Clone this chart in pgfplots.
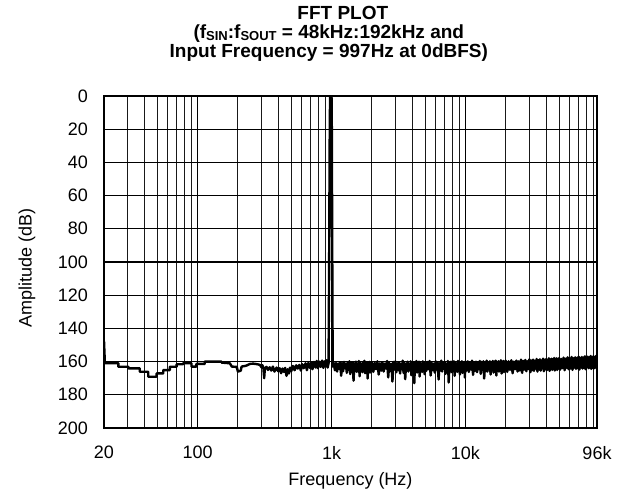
\documentclass[border=0pt]{standalone}
\usepackage{fontspec}
\setmainfont{Liberation Sans}
\usepackage{pgfplots}
\pgfplotsset{compat=1.18}

\newcommand{\sub}[1]{\raisebox{-2.2pt}{\fontsize{13}{13}\selectfont #1}}

\pgfplotstableread{
x y
20 147.5
20.3 161.0
25.6 161.0
25.6 163.1
30.4 163.1
30.4 164.1
37 164.1
37 166.1
42.8 166.1
42.8 169.1
49.4 169.1
49.4 167.1
55.4 167.1
55.4 165.1
62 165.1
62 163.1
69.8 163.1
69.8 161.6
78 161.6
78 161.0
90 161.0
90 163.0
98 163.0
98 161.4
113 161.4
113 160.0
151 160.0
151 160.6
174 161.0
180 163.0
196 163.2
200 166.0
210 165.5
213 163.0
230 162.5
246 161.4
260 161.2
280 161.6
292 162.0
300 163.5
305 162.2
310 164.0
314 170.0
318 164.0
327 163.2
335 165.0
345 163.4
355 165.4
365 163.0
375 166.0
389 163.6
400 165.8
410 164.0
420 167.0
430 164.2
440 166.2
450 163.8
461 168.6
470 164.6
480 167.2
490 163.6
500 165.8
515 162.6
530 165.2
545 162.2
560 164.2
575 162.0
590 165.4
605 161.6
620 164.0
640 161.0
655 165.2
670 160.8
690 163.8
705 160.4
720 164.6
740 160.2
760 163.6
775 159.6
790 164.0
810 160.0
830 163.2
850 159.4
870 163.8
890 159.8
905 162.8
920 159.2
935 163.6
950 161.0
960 100
968 30
975 0
990 0
1000 0
1005 20
1012 90
1020 163
1030 160.5
1040 161.5
1060 165.2
1080 160.8
1100 166.0
1120 161.2
1140 164.5
1160 160.5
1180 168.5
1200 161.0
1220 165.8
1240 160.2
1260 164.0
1280 161.4
1300 166.8
1320 160.6
1340 165.0
1360 159.8
1380 167.5
1400 161.0
1420 164.6
1440 160.4
1460 171.5
1480 161.2
1500 165.4
1520 160.0
1540 166.2
1560 161.6
1580 164.2
1600 159.6
1620 168.8
1640 160.8
1660 165.6
1680 161.4
1700 166.4
1720 160.2
1740 164.8
1760 159.5
1780 167.0
1800 161.0
1820 165.2
1840 160.6
1860 170.2
1880 161.3
1900 164.4
1920 160.1
1940 166.6
1960 161.5
1980 165.0
2000 160.4
2050 166.2
2100 160.8
2150 164.6
2200 159.8
2250 167.8
2300 161.0
2350 165.4
2400 160.4
2450 166.0
2500 161.2
2550 164.2
2600 159.6
2650 169.5
2700 160.8
2750 165.6
2800 161.4
2850 172.0
2900 160.2
2950 164.8
3000 159.8
3050 166.4
3100 161.0
3150 165.0
3200 160.6
3250 167.2
3300 161.4
3350 164.4
3400 159.4
3450 166.8
3500 160.8
3550 170.6
3600 161.2
3650 165.2
3700 160.0
3750 166.0
3800 161.6
3850 164.6
3900 159.8
3950 168.2
4000 160.6
4050 165.8
4100 161.0
4150 173.0
4200 160.4
4250 165.0
4300 159.6
4350 166.6
4400 161.2
4450 164.8
4500 160.0
4550 169.0
4600 160.8
4650 165.4
4700 161.4
4750 166.2
4800 159.8
4850 164.4
4900 160.6
4950 167.6
5000 161.0
5100 165.6
5200 160.2
5300 164.6
5400 159.6
5500 168.4
5600 160.8
5700 165.2
5800 161.2
5900 166.6
6000 159.8
6100 164.8
6200 160.6
6300 170.8
6400 161.0
6500 165.4
6600 159.4
6700 166.0
6800 160.8
6900 164.2
7000 160.2
7100 167.4
7200 161.4
7300 165.8
7400 159.6
7500 172.6
7600 160.6
7700 164.6
7800 160.0
7900 166.4
8000 161.0
8100 165.0
8200 159.8
8300 168.6
8400 160.6
8500 165.6
8600 161.2
8700 166.2
8800 159.6
8900 164.4
9000 160.4
9100 167.8
9200 160.8
9300 165.2
9400 159.8
9500 166.8
9600 161.0
9700 164.6
9800 160.2
9900 169.6
10000 160.8
10200 165.4
10400 159.8
10600 166.2
10800 160.4
11000 164.8
11200 159.4
11400 168.0
11600 160.6
11800 165.6
12000 160.0
12200 166.4
12400 161.0
12600 164.6
12800 159.6
13000 167.4
13200 160.2
13400 165.0
13600 159.8
13800 170.2
14000 160.8
14200 165.8
14400 159.4
14600 166.0
14800 160.4
15000 164.4
15200 159.8
15400 167.8
15600 160.6
15800 165.2
16000 159.6
16200 166.6
16400 160.2
16600 164.8
16800 159.4
17000 168.4
17200 160.6
17400 165.4
17600 159.8
17800 166.0
18000 160.4
18200 164.6
18400 159.2
18600 167.2
18800 160.2
19000 165.6
19200 159.6
19400 166.4
19600 160.0
19800 164.8
20000 159.4
20500 166.2
21000 159.8
21500 165.0
22000 159.2
22500 167.0
23000 160.0
23500 164.6
24000 159.4
24500 166.0
25000 159.8
25500 165.4
26000 158.8
26500 166.8
27000 159.6
27500 164.8
28000 159.0
28500 165.8
29000 159.8
29500 164.4
30000 158.6
30500 166.4
31000 159.4
31500 165.2
32000 158.8
32500 165.6
33000 159.6
33500 164.2
34000 158.4
34500 166.0
35000 159.2
35500 164.8
36000 158.6
36500 165.4
37000 159.4
37500 164.0
38000 158.2
38500 165.8
39000 159.0
39500 164.6
40000 158.4
40500 165.2
41000 159.2
41500 164.2
42000 158.0
42500 165.6
43000 158.8
43500 164.4
44000 158.2
44500 165.0
45000 159.0
45500 164.0
46000 157.8
46500 165.4
47000 158.6
47500 164.6
48000 158.0
48500 165.0
49000 158.8
49500 164.2
50000 157.8
51000 164.8
52000 158.4
53000 164.0
54000 157.6
55000 165.2
56000 158.2
57000 163.8
58000 157.4
59000 164.6
60000 158.0
61000 164.2
62000 157.2
63000 165.0
64000 158.0
65000 163.6
66000 157.4
67000 164.4
68000 157.8
69000 164.0
70000 157.0
71000 164.8
72000 157.8
73000 163.6
74000 157.2
75000 164.2
76000 157.6
77000 163.8
78000 156.8
79000 164.6
80000 157.6
81000 163.4
82000 157.0
83000 164.0
84000 157.4
85000 163.6
86000 156.6
87000 164.4
88000 157.2
89000 163.8
90000 156.8
91000 164.2
92000 157.4
93000 163.4
94000 156.6
95000 164.0
96000 157.2
}\fftdata

\begin{document}
\fontsize{18}{21}\selectfont
\begin{tikzpicture}
\begin{semilogxaxis}[
  width=493pt, height=332pt, scale only axis,
  xmin=20, xmax=96000, ymin=0, ymax=200, y dir=reverse,
  xtick={20,100,1000,10000,96000},
  xticklabels={20,100,1k,10k,96k},
  minor xtick={30,40,50,60,70,80,90,200,300,400,500,600,700,800,900,2000,3000,4000,5000,6000,7000,8000,9000,20000,30000,40000,50000,60000,70000,80000,90000},
  ytick={0,20,...,200},
  grid=both,
  major grid style={black, line width=1.1pt},
  minor grid style={black!90, line width=1.1pt},
  axis line style={line width=2.4pt},
  major tick length=0pt, minor tick length=0pt,
  /pgf/number format/assume math mode=true,
  xticklabel style={yshift=-12pt},
  yticklabel style={xshift=-10pt},
  ylabel={Amplitude (dB)},
  xlabel={Frequency (Hz)},
  ylabel style={at={(axis description cs:-0.156,0.482)}, anchor=center},
  xlabel style={at={(axis description cs:0.5,-0.1747)}, anchor=base},
]
\addplot[black, line width=2.4pt, line join=round] table[x=x,y=y] {\fftdata};
\coordinate (bl) at (axis description cs:0,0);
\coordinate (tr) at (axis description cs:1,1);
\coordinate (tt) at (axis description cs:0.456,1);
\end{semilogxaxis}
\node[anchor=north, align=center, font=\bfseries\fontsize{19}{19}\selectfont, inner sep=0pt]
  at ([yshift=90pt]tt)
  {\hspace*{28pt}FFT PLOT\\(f\sub{SIN}:f\sub{SOUT} = 48kHz:192kHz and\\Input Frequency = 997Hz at 0dBFS)};
\path ([xshift=-104pt,yshift=-66pt]bl) rectangle ([xshift=26pt,yshift=96pt]tr);
\end{tikzpicture}
\end{document}
